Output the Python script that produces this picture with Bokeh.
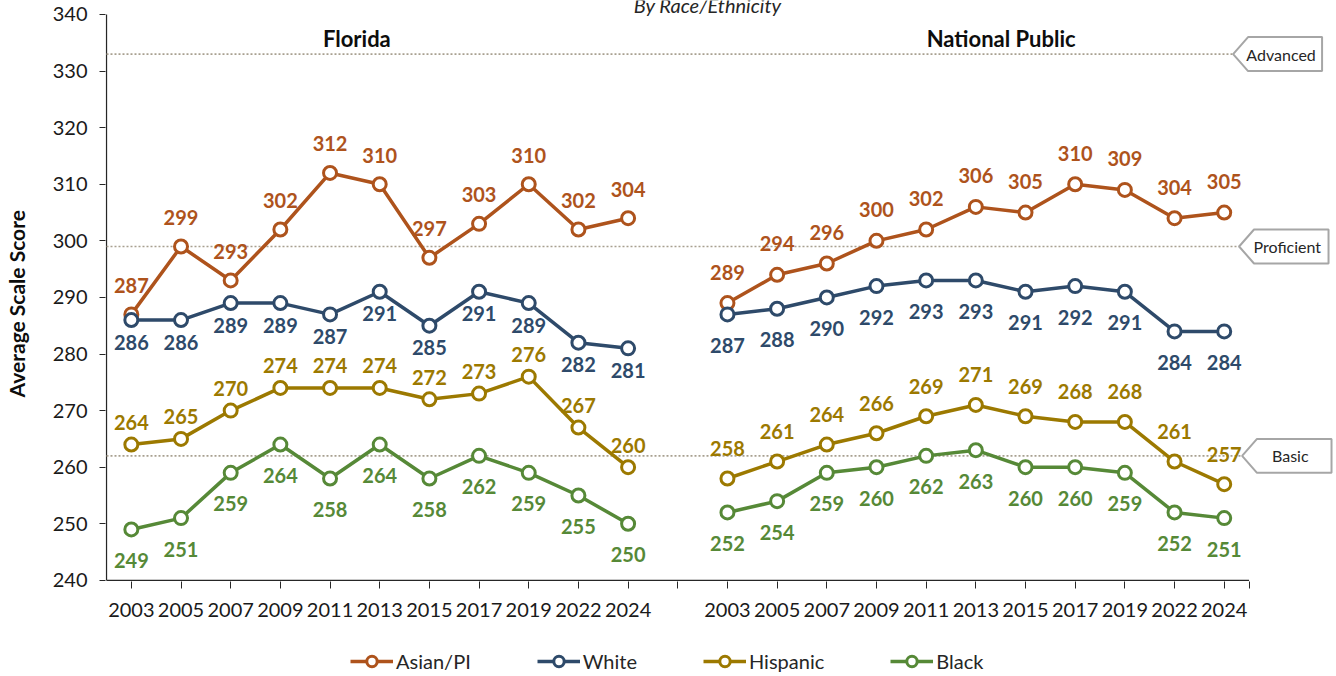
import numpy as np
from bokeh.plotting import figure
from bokeh.layouts import column
from bokeh.models import ColumnDataSource, FixedTicker, Legend, LegendItem, Range1d
from bokeh.core.properties import value
from bokeh.embed import file_html
from bokeh.resources import INLINE

# ---------------- data ----------------
years = ["2003", "2005", "2007", "2009", "2011", "2013", "2015", "2017", "2019", "2022", "2024"]
panels = ["Florida", "National Public"]
series = ["Asian/PI", "White", "Hispanic", "Black"]

fl_asian = [287, 299, 293, 302, 312, 310, 297, 303, 310, 302, 304]
fl_white = [286, 286, 289, 289, 287, 291, 285, 291, 289, 282, 281]
fl_hispanic = [264, 265, 270, 274, 274, 274, 272, 273, 276, 267, 260]
fl_black = [249, 251, 259, 264, 258, 264, 258, 262, 259, 255, 250]

np_asian = [289, 294, 296, 300, 302, 306, 305, 310, 309, 304, 305]
np_white = [287, 288, 290, 292, 293, 293, 291, 292, 291, 284, 284]
np_hispanic = [258, 261, 264, 266, 269, 271, 269, 268, 268, 261, 257]
np_black = [252, 254, 259, 260, 262, 263, 260, 260, 259, 252, 251]

levels = ["Advanced", "Proficient", "Basic"]
level_scores = [333, 299, 262]

subtitle = "By Race/Ethnicity"

# ---------------- style ----------------
FONT = "Lato"
colors = {"Asian/PI": "#AE531C", "White": "#2E4A6A", "Hispanic": "#9C7900", "Black": "#568937"}
label_offsets = {
    "Florida": {"Asian/PI": -29, "White": 22, "Hispanic": -22, "Black": 31},
    "National Public": {"Asian/PI": -31, "White": 31, "Hispanic": -30, "Black": 31},
}
fl_vals = {"Asian/PI": fl_asian, "White": fl_white, "Hispanic": fl_hispanic, "Black": fl_black}
np_vals = {"Asian/PI": np_asian, "White": np_white, "Hispanic": np_hispanic, "Black": np_black}

n = len(years)
x_fl = list(range(n))
x_np = [i + n + 1 for i in range(n)]
x_end = 2 * n + 0.5

p = figure(width=1334, height=630, output_backend="svg", toolbar_location=None,
           x_range=Range1d(-0.52, 24.2), y_range=Range1d(239.8, 342.47),
           min_border_left=104, min_border_right=1, min_border_top=0, min_border_bottom=49)
p.outline_line_color = None
p.grid.visible = False
p.background_fill_color = "white"
p.border_fill_color = "white"

AX = "#262626"
# y axis (trailing no-break spaces keep the title centred on the 240-340 span)
yax = p.yaxis[0]
yax.ticker = FixedTicker(ticks=list(range(240, 341, 10)), minor_ticks=[])
yax.axis_label = "Average Scale Score" + "\u00a0" * 5
yax.axis_label_text_font = FONT
yax.axis_label_text_font_size = "21px"
yax.axis_label_text_font_style = "bold"
yax.axis_label_text_color = "#0d0d0d"
yax.axis_label_standoff = 21
yax.major_label_text_font = FONT
yax.major_label_text_font_size = "20px"
yax.major_label_text_color = "#1a1a1a"
yax.major_label_standoff = 12
yax.major_tick_out = 6
yax.major_tick_in = 0
yax.major_tick_line_color = AX
yax.axis_line_color = None

# x axis
xax = p.xaxis[0]
ticks = list(range(2 * n + 1)) + [x_end]
overrides = {}
for i, yr in enumerate(years):
    overrides[x_fl[i]] = yr
    overrides[x_np[i]] = yr
overrides[n] = ""
overrides[x_end] = ""
xax.ticker = FixedTicker(ticks=ticks, minor_ticks=[])
xax.major_label_overrides = overrides
xax.major_label_text_font = FONT
xax.major_label_text_font_size = "20px"
xax.major_label_text_color = "#1a1a1a"
xax.major_label_standoff = 14
xax.major_tick_out = 7
xax.major_tick_in = 0
xax.major_tick_line_color = AX
xax.axis_line_color = None

# axis lines drawn as glyphs so they stop at 340 and at the last category
p.segment(x0=[-0.5], y0=[240], x1=[x_end], y1=[240], line_color=AX, line_width=1.3)
p.segment(x0=[-0.5], y0=[240], x1=[-0.5], y1=[340], line_color=AX, line_width=1.3)

# cut-off subtitle at the very top
p.text(x=[11.6], y=[341.6], text=[subtitle], text_font=value(FONT), text_font_size="20px",
       text_font_style="italic", text_color="#262626", text_align="center",
       text_baseline="alphabetic")

# achievement level lines and callouts
tips = [22.18, 22.30, 22.36]
box_right = [23.97, 24.10, 24.16]
for lev, sc, tx, br in zip(levels, level_scores, tips, box_right):
    p.segment(x0=[-0.5], y0=[sc], x1=[tx], y1=[sc], line_color="#A8A090",
              line_width=1.7, line_dash="2 2")
    h = 3.0
    d = 0.30
    p.patch(x=[tx, tx + d, br, br, tx + d], y=[sc, sc + h, sc + h, sc - h, sc - h],
            fill_color="white", line_color="#A6A6A6", line_width=2)
    p.text(x=[(tx + d + br) / 2 - 0.08], y=[sc], text=[lev], text_font=value(FONT),
           text_font_size="16px", text_color="#262626", text_align="center",
           text_baseline="middle")

# panel titles
for pname, px in zip(panels, [4.54, 17.51]):
    p.text(x=[px], y=[335.8], text=[pname], text_font=value(FONT), text_font_size="22px",
           text_font_style="bold", text_color="#0d0d0d", text_align="center",
           text_baseline="middle")

# series
for s in series:
    c = colors[s]
    xs = x_fl + [n] + x_np
    ys = fl_vals[s] + [np.nan] + np_vals[s]
    src = ColumnDataSource(dict(x=xs, y=ys))
    p.line("x", "y", source=src, line_color=c, line_width=3.5)
    p.scatter("x", "y", source=src, marker="circle", size=13, fill_color="white",
              line_color=c, line_width=3)

for s in series:
    c = colors[s]
    for pname, xs, vals in ((panels[0], x_fl, fl_vals[s]), (panels[1], x_np, np_vals[s])):
        src = ColumnDataSource(dict(x=xs, y=vals, t=[str(v) for v in vals]))
        p.text("x", "y", text="t", source=src, text_font=value(FONT), text_font_size="20px",
               text_font_style="bold", text_color=c, text_align="center",
               text_baseline="middle", y_offset=label_offsets[pname][s])

# ---------------- legend strip ----------------
lf = figure(width=1334, height=44, output_backend="svg", toolbar_location=None,
            x_range=Range1d(0, 1), y_range=Range1d(0, 1),
            min_border=0, min_border_left=0, min_border_right=0,
            min_border_top=0, min_border_bottom=0)
lf.axis.visible = False
lf.grid.visible = False
lf.outline_line_color = None
lf.border_fill_color = "white"

items = []
for s in series:
    c = colors[s]
    # placeholder renderers (outside the visible range) that only feed the legend
    lr = lf.line(x=[5, 6], y=[5, 5], line_color=c, line_width=3.5)
    sr = lf.scatter(x=[5], y=[5], marker="circle", size=13, fill_color="white",
                    line_color=c, line_width=3)
    items.append(LegendItem(label=s, renderers=[lr, sr]))

legend = Legend(items=items, orientation="horizontal", location=(245, 0),
                padding=0, margin=0, spacing=66, glyph_width=43, glyph_height=26,
                label_standoff=3, border_line_color=None, background_fill_alpha=0,
                label_text_font=FONT, label_text_font_size="20px",
                label_text_color="#262626")
lf.add_layout(legend)

open("out.html", "w").write(file_html(column(p, lf), INLINE))
